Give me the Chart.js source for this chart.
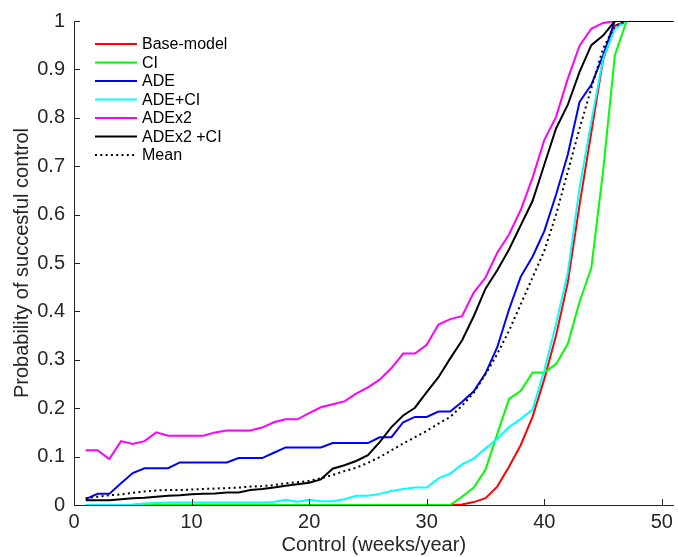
<!DOCTYPE html>
<html>
<head>
<meta charset="utf-8">
<script src="https://cdn.jsdelivr.net/npm/chart.js@4/dist/chart.umd.min.js"></script>
<style>
  body { margin: 0; background: #fff; }
  #chart { display: block; }
</style>
</head>
<body>
<canvas id="chart" width="678" height="557"></canvas>
<script>
// weeks of control per year (x values)
const weeks = [1, 2, 3, 4, 5, 6, 7, 8, 9, 10, 11, 12, 13, 14, 15, 16, 17, 18, 19, 20,
    21, 22, 23, 24, 25, 26, 27, 28, 29, 30, 31, 32, 33, 34, 35, 36, 37, 38, 39, 40,
    41, 42, 43, 44, 45, 46, 47, 48, 49, 50, 51];

const xTicks = [0, 10, 20, 30, 40, 50];
const yTicks = [0, 0.1, 0.2, 0.3, 0.4, 0.5, 0.6, 0.7, 0.8, 0.9, 1];

const seriesNames = ['Base-model', 'CI', 'ADE', 'ADE+CI', 'ADEx2', 'ADEx2 +CI', 'Mean'];

const baseModel = [0, 0, 0, 0, 0, 0, 0, 0, 0, 0, 0, 0, 0, 0, 0, 0, 0, 0, 0, 0,
    0, 0, 0, 0, 0, 0, 0, 0, 0, 0, 0, 0, 0.001, 0.006, 0.014, 0.038, 0.079, 0.124, 0.182, 0.26,
    0.35, 0.46, 0.62, 0.77, 0.92, 0.99, 1, 1, 1, 1, 1];

const ci = [0, 0, 0, 0, 0, 0, 0, 0, 0, 0, 0, 0, 0, 0, 0, 0, 0, 0, 0, 0,
    0, 0, 0, 0, 0, 0, 0, 0, 0, 0, 0, 0, 0.017, 0.036, 0.073, 0.147, 0.219, 0.236, 0.274, 0.274,
    0.291, 0.333, 0.42, 0.49, 0.69, 0.929, 1, 1, 1, 1, 1];

const ade = [0.012, 0.023, 0.023, 0.045, 0.066, 0.076, 0.076, 0.076, 0.088, 0.088,
    0.088, 0.088, 0.088, 0.097, 0.097, 0.097, 0.108, 0.119, 0.119, 0.119,
    0.119, 0.128, 0.128, 0.128, 0.128, 0.140, 0.140, 0.171, 0.182, 0.182,
    0.193, 0.193, 0.213, 0.235, 0.272, 0.326, 0.404, 0.472, 0.513, 0.566,
    0.641, 0.724, 0.833, 0.868, 0.929, 1, 1, 1, 1, 1, 1];

const adeCi = [0, 0, 0, 0, 0.001, 0.003, 0.004, 0.005, 0.005, 0.005,
    0.005, 0.005, 0.005, 0.005, 0.005, 0.005, 0.006, 0.011, 0.007, 0.011,
    0.008, 0.008, 0.012, 0.019, 0.019, 0.023, 0.029, 0.033, 0.036, 0.036,
    0.055, 0.065, 0.084, 0.096, 0.117, 0.137, 0.161, 0.178, 0.197, 0.278,
    0.374, 0.48, 0.655, 0.792, 0.922, 0.984, 1, 1, 1, 1, 1];

const adex2 = [0.113, 0.113, 0.095, 0.132, 0.126, 0.132, 0.150, 0.143, 0.143, 0.143,
    0.143, 0.150, 0.154, 0.154, 0.154, 0.160, 0.171, 0.177, 0.177, 0.190,
    0.202, 0.208, 0.214, 0.230, 0.243, 0.259, 0.283, 0.313, 0.313, 0.331,
    0.373, 0.384, 0.390, 0.439, 0.470, 0.521, 0.559, 0.610, 0.676, 0.754,
    0.802, 0.881, 0.949, 0.984, 0.996, 1, 1, 1, 1, 1, 1];

const adex2Ci = [0.010, 0.010, 0.010, 0.012, 0.014, 0.015, 0.017, 0.019, 0.020, 0.022,
    0.023, 0.024, 0.026, 0.026, 0.031, 0.033, 0.036, 0.040, 0.043, 0.046,
    0.053, 0.075, 0.082, 0.091, 0.103, 0.130, 0.161, 0.185, 0.201, 0.233,
    0.264, 0.303, 0.340, 0.390, 0.447, 0.485, 0.528, 0.578, 0.628, 0.703,
    0.778, 0.827, 0.895, 0.950, 0.970, 1, 1, 1, 1, 1, 1];

const meanAll = [0.014, 0.017, 0.020, 0.022, 0.025, 0.028, 0.030, 0.031, 0.031, 0.032,
    0.033, 0.034, 0.035, 0.036, 0.038, 0.039, 0.041, 0.045, 0.047, 0.050,
    0.055, 0.062, 0.070, 0.077, 0.087, 0.099, 0.113, 0.127, 0.140, 0.153,
    0.168, 0.182, 0.205, 0.232, 0.270, 0.312, 0.360, 0.415, 0.470, 0.525,
    0.600, 0.689, 0.778, 0.861, 0.943, 0.99, 1, 1, 1, 1, 1];

const FONT = '"Liberation Sans", Arial, Helvetica, sans-serif';
const AXIS = '#262626';

const seriesValues = [baseModel, ci, ade, adeCi, adex2, adex2Ci, meanAll];
const colors = ['#ff0000', '#00ff00', '#0000ff', '#00ffff', '#ff00ff', '#000000', '#000000'];

const toPoints = (arr) => weeks.map((w, i) => ({ x: w, y: arr[i] }));

const datasets = seriesNames.map((name, i) => ({
    label: name,
    data: toPoints(seriesValues[i]),
    borderColor: colors[i],
    backgroundColor: colors[i],
    borderWidth: 2,
    borderDash: name === 'Mean' ? [2, 3.3] : [],
    pointRadius: 0,
    tension: 0,
    fill: false,
    // later series drawn on top, like the original plot
    order: seriesNames.length - i,
}));

// matlab style ticks pointing into the axes
const insideTicks = {
    id: 'insideTicks',
    afterDraw(chart) {
        const { ctx, chartArea, scales } = chart;
        ctx.save();
        ctx.strokeStyle = AXIS;
        ctx.lineWidth = 1;
        ctx.beginPath();
        xTicks.forEach(v => {
            const px = Math.round(scales.x.getPixelForValue(v)) + 0.5;
            ctx.moveTo(px, chartArea.bottom);
            ctx.lineTo(px, chartArea.bottom - 6);
        });
        yTicks.forEach(v => {
            const py = Math.round(scales.y.getPixelForValue(v)) + 0.5;
            ctx.moveTo(chartArea.left, py);
            ctx.lineTo(chartArea.left + 6, py);
        });
        ctx.stroke();
        ctx.restore();
    }
};

// legend box in the upper left corner of the axes
const innerLegend = {
    id: 'innerLegend',
    afterDraw(chart) {
        const ctx = chart.ctx;
        const left = chart.chartArea.left + 21;
        let y = 44;
        ctx.save();
        ctx.font = '16px ' + FONT;
        ctx.textBaseline = 'middle';
        chart.data.datasets.forEach(ds => {
            ctx.strokeStyle = ds.borderColor;
            ctx.lineWidth = ds.borderWidth;
            ctx.setLineDash(ds.borderDash);
            ctx.beginPath();
            ctx.moveTo(left, y);
            ctx.lineTo(left + 42, y);
            ctx.stroke();
            ctx.setLineDash([]);
            ctx.fillStyle = '#000';
            ctx.fillText(ds.label, left + 47, y + 1);
            y += 18.5;
        });
        ctx.restore();
    }
};

new Chart(document.getElementById('chart'), {
    type: 'line',
    data: { datasets: datasets },
    options: {
        responsive: false,
        animation: false,
        devicePixelRatio: 1,
        layout: { padding: { top: 19, right: 1, left: 0, bottom: 0 } },
        plugins: {
            legend: { display: false },
            tooltip: { enabled: false },
        },
        scales: {
            x: {
                type: 'linear',
                min: 0,
                max: 51,
                afterBuildTicks: (s) => { s.ticks = xTicks.map(v => ({ value: v })); },
                afterFit: (s) => { s.height = 52; },
                grid: { display: false, drawTicks: false },
                border: { display: true, color: AXIS, width: 1 },
                ticks: { font: { family: FONT, size: 20 }, color: AXIS, padding: 5, maxRotation: 0 },
                title: {
                    display: true,
                    text: 'Control (weeks/year)',
                    font: { family: FONT, size: 20 },
                    color: AXIS,
                    padding: { top: 0, bottom: 0 },
                },
            },
            y: {
                type: 'linear',
                min: 0,
                max: 1,
                afterBuildTicks: (s) => { s.ticks = yTicks.map(v => ({ value: v })); },
                afterFit: (s) => { s.width = 74; },
                grid: { display: false, drawTicks: false },
                border: { display: true, color: AXIS, width: 1 },
                ticks: {
                    font: { family: FONT, size: 20 },
                    color: AXIS,
                    padding: 9,
                    callback: (v) => (v === 0 || v === 1) ? String(v) : v.toFixed(1),
                },
                title: {
                    display: true,
                    text: 'Probability of succesful control',
                    font: { family: FONT, size: 20 },
                    color: AXIS,
                    padding: { top: 10, bottom: 0 },
                },
            },
        },
    },
    plugins: [insideTicks, innerLegend],
});
</script>
</body>
</html>
